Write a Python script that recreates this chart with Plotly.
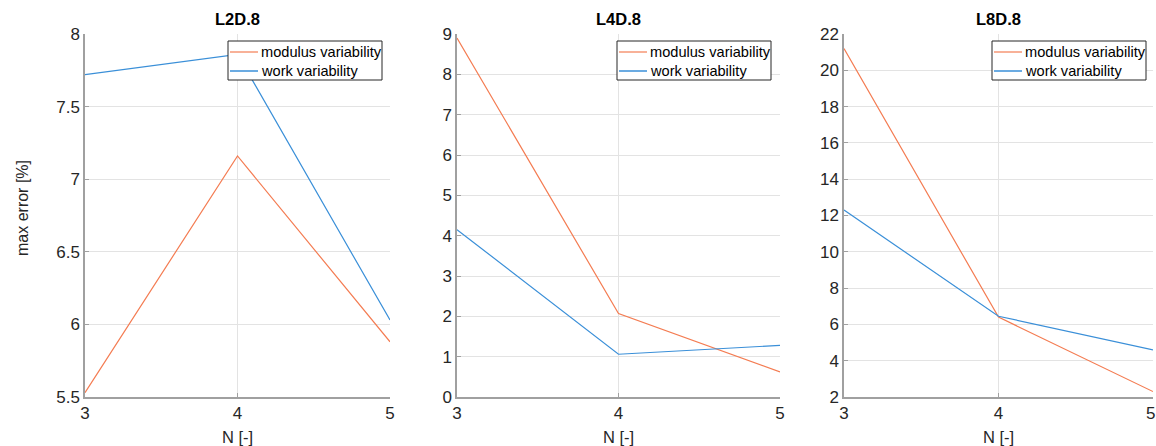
import plotly.graph_objects as go

N = [3, 4, 5]
titles = ["L2D.8", "L4D.8", "L8D.8"]
series_names = ["modulus variability", "work variability"]
modulus = [
    [5.53, 7.16, 5.88],
    [8.9, 2.07, 0.62],
    [21.2, 6.4, 2.3],
]
work = [
    [7.72, 7.86, 6.03],
    [4.15, 1.06, 1.28],
    [12.3, 6.45, 4.6],
]
y_ranges = [[5.5, 8], [0, 9], [2, 22]]
y_ticks = [
    [5.5, 6, 6.5, 7, 7.5, 8],
    [0, 1, 2, 3, 4, 5, 6, 7, 8, 9],
    [2, 4, 6, 8, 10, 12, 14, 16, 18, 20, 22],
]

W, H = 1156, 446
x_px = [(85, 390), (457, 780), (844, 1153)]
y_top, y_bot = 34, 397
legend_left = [228, 617, 992]
legend_w = 154
legend_top, legend_bot = 41, 80

orange = "#F47C52"
blue = "#3A8FD8"
colors = [orange, blue]
axis_col = "#A0A0A0"
font = "Liberation Sans, Arial, Helvetica, sans-serif"

def px(xp):
    return xp / W

def py(yp):
    return 1 - yp / H

fig = go.Figure()
for i in range(3):
    xa = "x" if i == 0 else f"x{i+1}"
    ya = "y" if i == 0 else f"y{i+1}"
    for name, data, c in zip(series_names, [modulus[i], work[i]], colors):
        fig.add_trace(go.Scatter(x=N, y=data, mode="lines", name=name, showlegend=False,
                                 line=dict(color=c, width=1.2), xaxis=xa, yaxis=ya))

layout = dict(
    width=W, height=H,
    margin=dict(l=0, r=0, t=0, b=0, autoexpand=False),
    paper_bgcolor="white", plot_bgcolor="white",
    font=dict(family=font, size=16, color="#262626"),
    showlegend=False,
)
annotations = []
shapes = []
for i in range(3):
    x0, x1 = x_px[i]
    xk = "xaxis" if i == 0 else f"xaxis{i+1}"
    yk = "yaxis" if i == 0 else f"yaxis{i+1}"
    ya = "y" if i == 0 else f"y{i+1}"
    xa = "x" if i == 0 else f"x{i+1}"
    layout[xk] = dict(domain=[px(x0), px(x1)], range=[3, 5], tickvals=N, anchor=ya,
                      showgrid=True, gridcolor="#E3E3E3", gridwidth=1,
                      showline=True, linecolor=axis_col, linewidth=1.5,
                      ticks="inside", ticklen=4, tickcolor=axis_col,
                      zeroline=False, automargin=False, tickfont=dict(size=17))
    layout[yk] = dict(domain=[py(y_bot), py(y_top)], range=y_ranges[i], tickvals=y_ticks[i],
                      anchor=xa, showgrid=True, gridcolor="#E3E3E3", gridwidth=1,
                      showline=True, linecolor=axis_col, linewidth=1.5,
                      ticks="inside", ticklen=4, tickcolor=axis_col,
                      zeroline=False, automargin=False, tickfont=dict(size=17))
    # title
    annotations.append(dict(text="<b>" + titles[i] + "</b>", x=px((x0 + x1) / 2), y=py(19),
                            xref="paper", yref="paper", showarrow=False, xanchor="center",
                            yanchor="middle", font=dict(size=16.5, color="#000")))
    # x-axis title
    annotations.append(dict(text="N [-]", x=px((x0 + x1) / 2), y=py(437),
                            xref="paper", yref="paper", showarrow=False, xanchor="center",
                            yanchor="middle", font=dict(size=16.5, color="#262626")))
    # legend box
    lx = legend_left[i]
    shapes.append(dict(type="rect", xref="paper", yref="paper",
                       x0=px(lx), x1=px(lx + legend_w), y0=py(legend_bot), y1=py(legend_top),
                       line=dict(color="#262626", width=1), fillcolor="white", layer="above"))
    for k, (name, c) in enumerate(zip(series_names, colors)):
        yy = 52 + 19 * k
        shapes.append(dict(type="line", xref="paper", yref="paper",
                           x0=px(lx + 2), x1=px(lx + 30), y0=py(yy), y1=py(yy),
                           line=dict(color=c, width=1.5 if k else 1.2), layer="above"))
        annotations.append(dict(text=name, x=px(lx + 31), y=py(yy), xref="paper", yref="paper",
                                showarrow=False, xanchor="left", yanchor="middle",
                                font=dict(size=14.6, color="#000")))
# last x tick label of the third panel (plotly drops it at the page edge), kept inside the page
annotations.append(dict(text=str(N[-1]), x=1.0, xref="paper", y=py(413), yref="paper",
                        showarrow=False, xanchor="right", yanchor="middle", borderpad=0,
                        font=dict(size=17, color="#262626")))
annotations.append(dict(text="max error [%]", x=px(22), y=py(208), xref="paper", yref="paper",
                        showarrow=False, textangle=-90, xanchor="center", yanchor="middle",
                        font=dict(size=16, color="#262626")))
layout["annotations"] = annotations
layout["shapes"] = shapes
fig.update_layout(**layout)
fig.write_html("out.html")
